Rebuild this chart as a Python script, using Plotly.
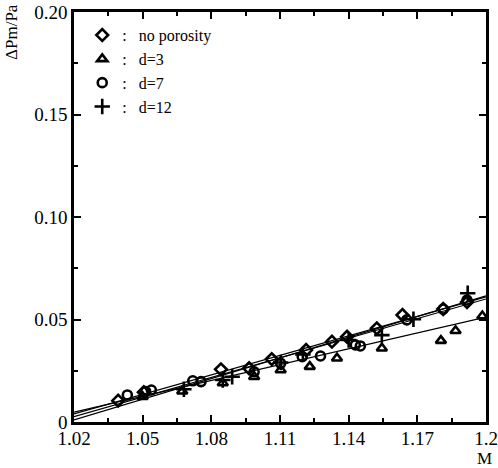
import plotly.graph_objects as go

# ---- data ----
series_names = ["no porosity", "d=3", "d=7", "d=12"]
symbols = ["diamond-open", "triangle-up-open", "circle-open", "cross-thin-open"]

m_nopor = [1.0393, 1.0505, 1.0842, 1.0965, 1.1064, 1.1214, 1.1327, 1.1393, 1.1523, 1.1635, 1.1813, 1.1917]
p_nopor = [0.0104, 0.0145, 0.0257, 0.0262, 0.0307, 0.0351, 0.0392, 0.0416, 0.0457, 0.0522, 0.0551, 0.0585]

m_d3 = [1.0500, 1.0673, 1.0850, 1.0987, 1.1103, 1.1230, 1.1349, 1.1545, 1.1803, 1.1867, 1.1984]
p_d3 = [0.0123, 0.0150, 0.0190, 0.0221, 0.0254, 0.0270, 0.0311, 0.0360, 0.0397, 0.0445, 0.0517]

m_d7 = [1.0433, 1.0513, 1.0538, 1.0719, 1.0755, 1.0987, 1.1103, 1.1197, 1.1277, 1.1429, 1.1451, 1.1654, 1.1813, 1.1917]
p_d7 = [0.0132, 0.0148, 0.0156, 0.0201, 0.0197, 0.0245, 0.0286, 0.0319, 0.0322, 0.0376, 0.0371, 0.0498, 0.0551, 0.0595]

m_d12 = [1.0680, 1.0850, 1.0891, 1.1103, 1.1200, 1.1400, 1.1545, 1.1683, 1.1920]
p_d12 = [0.0160, 0.0205, 0.0221, 0.0290, 0.0330, 0.0400, 0.0424, 0.0501, 0.0628]

fit_m = [1.02, 1.20]
fit_nopor = [0.0040, 0.0610]
fit_d3 = [0.0048, 0.0512]
fit_d7 = [0.0026, 0.0600]
fit_d12 = [0.0010, 0.0615]

x_tickvals = [1.02, 1.05, 1.08, 1.11, 1.14, 1.17, 1.20]
x_ticktext = ["1.02", "1.05", "1.08", "1.11", "1.14", "1.17", "1.2"]
y_tickvals = [0, 0.05, 0.10, 0.15, 0.20]
y_ticktext = ["0", "0.05", "0.10", "0.15", "0.20"]

xs = [m_nopor, m_d3, m_d7, m_d12]
ys = [p_nopor, p_d3, p_d7, p_d12]
fits = [fit_nopor, fit_d3, fit_d7, fit_d12]

FONT = "Liberation Serif"
fig = go.Figure()

for fy in fits:
    fig.add_trace(go.Scatter(x=fit_m, y=fy, mode="lines",
                             line=dict(color="black", width=1.2),
                             showlegend=False, hoverinfo="skip"))

for name, sym, x, y in zip(series_names, symbols, xs, ys):
    fig.add_trace(go.Scatter(
        x=x, y=y, mode="markers", name=":   " + name,
        marker=dict(symbol=sym, size=9 if "cross" not in sym else 11,
                    color="black", line=dict(color="black", width=2.6)),
    ))

axis_common = dict(
    showline=True, linecolor="black", linewidth=2.5, mirror="ticks",
    ticks="inside", ticklen=7, tickwidth=1.8, tickcolor="black",
    showgrid=False, zeroline=False, automargin=False,
    tickfont=dict(family=FONT, size=19, color="black"),
)

fig.update_xaxes(range=[1.02, 1.20], tickvals=x_tickvals, ticktext=x_ticktext,
                 ticklabelstandoff=-3,
                 minor=dict(ticks="inside", ticklen=4, tickwidth=1.5, tickcolor="black", dtick=0.015,
                            tick0=1.02),
                 **axis_common)
fig.update_yaxes(range=[0, 0.20], tickvals=y_tickvals, ticktext=y_ticktext,
                 minor=dict(ticks="inside", ticklen=4, tickwidth=1.5, tickcolor="black", dtick=0.025,
                            tick0=0),
                 **axis_common)

fig.update_layout(
    width=498, height=468,
    margin=dict(l=74, r=12, t=12, b=46),
    paper_bgcolor="white", plot_bgcolor="white",
    font=dict(family=FONT, color="black"),
    legend=dict(x=0.02, y=0.985, xanchor="left", yanchor="top",
                bgcolor="rgba(0,0,0,0)", font=dict(family=FONT, size=16, color="black"),
                itemwidth=30, tracegroupgap=0),
    annotations=[
        dict(text="ΔPm/Pa", xref="paper", yref="paper", x=-0.15, y=1.025,
             xanchor="center", yanchor="top", textangle=-90, showarrow=False,
             font=dict(family=FONT, size=17, color="black")),
        dict(text="M", xref="paper", yref="paper", x=0.997, y=-0.088,
             xanchor="center", yanchor="middle", showarrow=False,
             font=dict(family=FONT, size=17, color="black")),
    ],
)

fig.write_html("out.html")
